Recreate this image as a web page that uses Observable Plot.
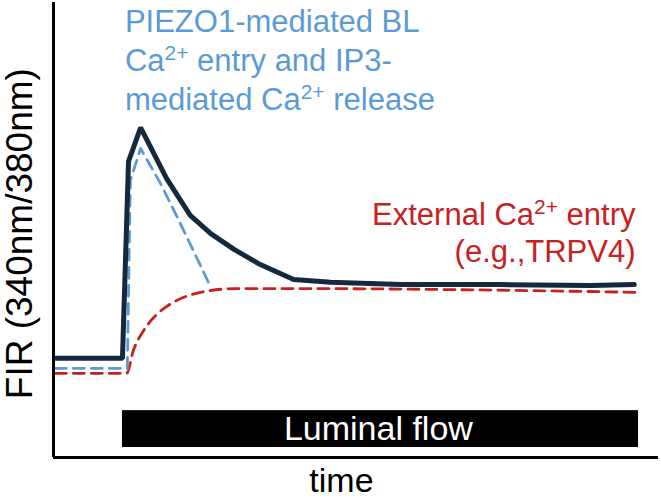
<!DOCTYPE html>
<html>
<head>
<meta charset="utf-8">
<script src="https://cdn.jsdelivr.net/npm/d3@7"></script>
<script src="https://cdn.jsdelivr.net/npm/@observablehq/plot@0.6"></script>
<style>
body { margin: 0; background: #fff; }
</style>
</head>
<body>
<div id="chart"></div>
<script>
// Schematic time course of FIR (arbitrary units)
const totalTime = [0.3, 11.4, 12.4, 14.4, 18.7, 22.6, 26.0, 29.9, 33.9, 39.7, 45.8, 57.4, 73.9, 88.8, 96.0];
const totalFIR  = [21.8, 21.8, 65.1, 72.5, 61.3, 53.2, 49.2, 45.7, 42.6, 39.1, 38.5, 38.0, 38.0, 37.8, 38.0];

const piezoTime = [0.3, 12.2, 12.7, 14.4, 17.7, 20.5, 23.1, 26.0];
const piezoFIR  = [19.6, 19.6, 60.9, 67.9, 60.2, 52.7, 45.5, 37.4];

const externalTime = [0.3, 12.1, 13.2, 14.9, 17.2, 19.8, 24.3, 29.8, 45.8, 65.6, 96.4];
const externalFIR  = [18.5, 18.5, 23.5, 27.9, 31.6, 34.1, 36.3, 37.1, 37.1, 36.9, 36.3];

const flowStart = 11.4, flowEnd = 96.7, flowLow = 2.2, flowHigh = 10.3;
const flowLabel = "Luminal flow";

const piezoLabel = "PIEZO1-mediated BL\nCa²⁺ entry and IP3-\nmediated Ca²⁺ release";
const externalLabel = "External Ca²⁺ entry\n(e.g.,TRPV4)";
const xLabel = "time";
const yLabel = "FIR (340nm/380nm)";

const total = totalTime.map((t, i) => ({t, v: totalFIR[i]}));
const piezo = piezoTime.map((t, i) => ({t, v: piezoFIR[i]}));
const external = externalTime.map((t, i) => ({t, v: externalFIR[i]}));

const font = "'Liberation Sans', Arial, Helvetica, sans-serif";

const chart = Plot.plot({
  width: 661,
  height: 500,
  marginLeft: 53,
  marginRight: 3,
  marginTop: 2,
  marginBottom: 43,
  style: {fontFamily: font, background: "#fff"},
  x: {domain: [0, 100], axis: null},
  y: {domain: [0, 100], axis: null},
  marks: [
    Plot.rect([{x1: flowStart, x2: flowEnd, y1: flowLow, y2: flowHigh}], {x1: "x1", x2: "x2", y1: "y1", y2: "y2", fill: "#000"}),
    Plot.text([flowLabel], {x: 53.7, y: (flowLow + flowHigh) / 2, text: d => d, fill: "#fff", fontSize: 34}),
    Plot.line(external, {x: "t", y: "v", stroke: "#c8201e", strokeWidth: 2.8, strokeDasharray: "11,7", curve: "monotone-x"}),
    Plot.line(piezo, {x: "t", y: "v", stroke: "#5b9bd5", strokeWidth: 2.8, strokeDasharray: "11,7"}),
    Plot.line(total, {x: "t", y: "v", stroke: "#14293d", strokeWidth: 5, strokeLinejoin: "miter"}),
    Plot.ruleX([0], {y1: 0, y2: 100, stroke: "#000", strokeWidth: 3}),
    Plot.ruleY([0], {x1: 0, x2: 100, stroke: "#000", strokeWidth: 3}),
    Plot.text([piezoLabel], {x: 11.8, y: 99.6, text: d => d, textAnchor: "start", lineAnchor: "top", fill: "#5b9bd5", fontSize: 31, lineHeight: 1.26}),
    Plot.text([externalLabel], {x: 96.2, y: 49.6, text: d => d, textAnchor: "end", lineAnchor: "middle", fill: "#c8201e", fontSize: 31, lineHeight: 1.2}),
    Plot.text([xLabel], {x: 47.6, frameAnchor: "bottom", lineAnchor: "middle", dy: 24, text: d => d, fontSize: 34, fill: "#000"}),
    Plot.text([yLabel], {y: 49.2, frameAnchor: "left", textAnchor: "middle", dx: -33, rotate: -90, text: d => d, fontSize: 37, fill: "#000"})
  ]
});

// Render "²⁺" as a proper raised "2+"
const ns = "http://www.w3.org/2000/svg";
chart.querySelectorAll("text, tspan").forEach(el => {
  if (el.children.length === 0 && el.textContent.includes("²⁺")) {
    const parts = el.textContent.split("²⁺");
    el.textContent = "";
    parts.forEach((p, i) => {
      if (i > 0) {
        const sup = document.createElementNS(ns, "tspan");
        sup.setAttribute("dy", "-11");
        sup.setAttribute("font-size", "21");
        sup.textContent = "2+";
        el.appendChild(sup);
        const rest = document.createElementNS(ns, "tspan");
        rest.setAttribute("dy", "11");
        rest.textContent = p;
        el.appendChild(rest);
      } else {
        el.appendChild(document.createTextNode(p));
      }
    });
  }
});

document.getElementById("chart").appendChild(chart);
</script>
</body>
</html>
